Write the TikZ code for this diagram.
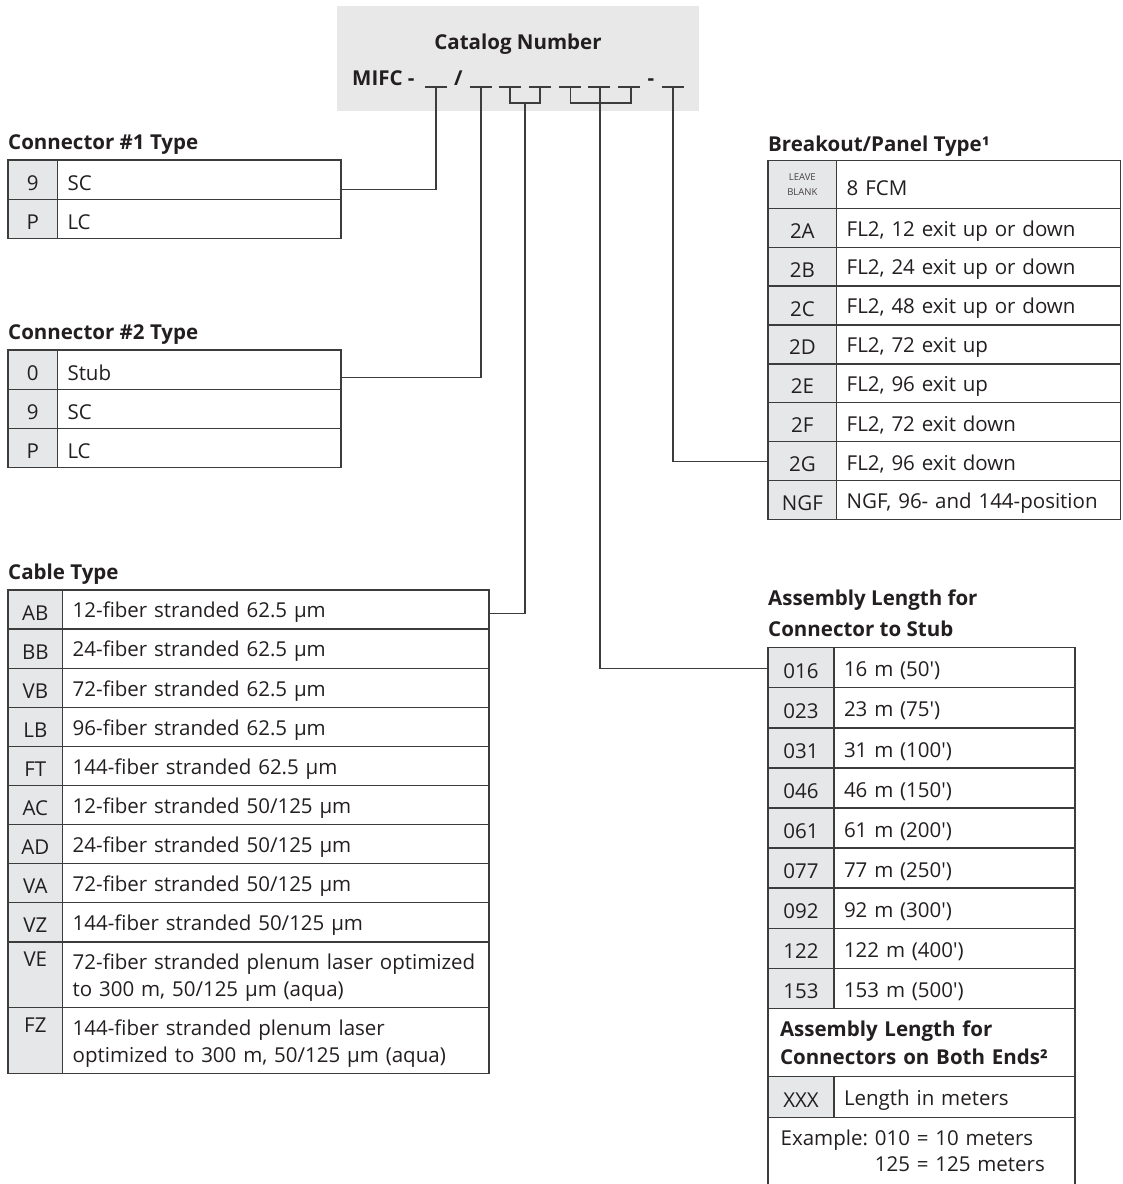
\documentclass[tikz,border=0pt]{standalone}
\usepackage{fontspec}
\setmainfont{Open Sans}
\definecolor{linegray}{HTML}{3C3C3C}
\definecolor{codegray}{HTML}{E6E7E8}
\definecolor{boxgray}{HTML}{E8E8E8}
\definecolor{ink}{HTML}{231F20}
\newcommand{\cellstrut}{\rule[-0.5pt]{0pt}{22pt}}
\newcommand{\bodyfont}{\fontsize{20.5}{26.7}\selectfont}
\newcommand{\headfont}{\fontsize{20.5}{30.5}\selectfont\bfseries}
\tikzset{
  cell/.style={draw=linegray,line width=1.3pt,anchor=north west,outer sep=0pt,
    inner ysep=0pt,text=ink,font=\bodyfont},
  codecell/.style={cell,fill=codegray,inner xsep=0pt,align=center,
    execute at begin node=\cellstrut},
  desccell/.style={cell,inner xsep=10pt,align=left,execute at begin node=\cellstrut},
  head/.style={anchor=base west,inner sep=0pt,text=ink,font=\headfont},
  wire/.style={draw=linegray,line width=1.3pt},
}
\begin{document}
\begin{tikzpicture}[x=1pt,y=-1pt]
\useasboundingbox[fill=white] (0,0) rectangle (1123,1184);

% catalog number box
\node[fill=boxgray,anchor=north west,inner sep=0pt,minimum width=362,minimum height=104.7] (catbox) at (337,6) {};
\node[head,anchor=base] (cattitle) at (518,49.5) {Catalog Number};
\node[head] (catmifc) at (352,85) {MIFC -};
\node[head,anchor=base] (catslash) at (458.3,85) {/};
\node[head,anchor=base] (catdash) at (651,85) {-};
\foreach \a/\b in {425/447,470/492,499/521,529/551,559/581,588/610,618/640,662/684}
  \draw[wire] (\a,87) -- (\b,87);
\draw[wire] (510,87) |- (540,103) -- (540,87);
\draw[wire] (570.5,87) |- (631,103) -- (631,87);
\coordinate (u1) at (436,87);
\coordinate (u2) at (481,87);
\coordinate (ucab) at (525,103);
\coordinate (ulen) at (600,87);
\coordinate (ubrk) at (673,87);

% connector #1
\node[head] (c1head) at (8,149) {Connector \#1 Type};
\foreach \cd/\ds [count=\i] in {9/SC,P/LC}{
  \node[codecell,minimum width=49.5,minimum height=39.2] (c1c\i) at (8,{160+(\i-1)*39.2}) {\cd};
  \node[desccell,text width=263.5pt,minimum height=39.2] (c1d\i) at (57.5,{160+(\i-1)*39.2}) {\ds};
}

% connector #2
\node[head] (c2head) at (8,339) {Connector \#2 Type};
\foreach \cd/\ds [count=\i] in {0/Stub,9/SC,P/LC}{
  \node[codecell,minimum width=49.5,minimum height=39.2] (c2c\i) at (8,{350+(\i-1)*39.2}) {\cd};
  \node[desccell,text width=263.5pt,minimum height=39.2] (c2d\i) at (57.5,{350+(\i-1)*39.2}) {\ds};
}

% cable type
\node[head] (cabhead) at (8,579) {Cable Type};
\foreach \cd/\ds [count=\i] in {AB/{12-fiber stranded 62.5 µm},BB/{24-fiber stranded 62.5 µm},
    VB/{72-fiber stranded 62.5 µm},LB/{96-fiber stranded 62.5 µm},FT/{144-fiber stranded 62.5 µm},
    AC/{12-fiber stranded 50/125 µm},AD/{24-fiber stranded 50/125 µm},
    VA/{72-fiber stranded 50/125 µm},VZ/{144-fiber stranded 50/125 µm}}{
  \node[codecell,minimum width=54.7,minimum height=39.1] (cabc\i) at (8,{590+(\i-1)*39.1}) {\cd};
  \node[desccell,text width=406.3pt,minimum height=39.1] (cabd\i) at (62.7,{590+(\i-1)*39.1}) {\ds};
}
\node[codecell,minimum width=54.7,minimum height=65.9] (cabc10) at (8,941.9) {VE\\\rule[-4pt]{0pt}{4pt}};
\node[desccell,text width=406.3pt,minimum height=65.9] (cabd10) at (62.7,941.9)
  {72-fiber stranded plenum laser optimized\\to 300 m, 50/125 µm (aqua)};
\node[codecell,minimum width=54.7,minimum height=65.5] (cabc11) at (8,1007.8) {FZ\\\rule[-4pt]{0pt}{4pt}};
\node[desccell,text width=406.3pt,minimum height=65.5] (cabd11) at (62.7,1007.8)
  {144-fiber stranded plenum laser\\optimized to 300 m, 50/125 µm (aqua)};

% breakout / panel type
\node[head] (brkhead) at (768,151.5) {Breakout/Panel Type¹};
\node[cell,fill=codegray,inner xsep=0pt,align=center,minimum width=68.7,minimum height=47.6,
  text=ink!85,font=\fontsize{9.5}{15}\selectfont] (brkc0) at (768,160.7) {LEAVE\\BLANK};
\node[desccell,text width=264pt,minimum height=47.6] (brkd0) at (836.7,160.7) {8 FCM};
\foreach \cd/\ds [count=\i] in {2A/{FL2, 12 exit up or down},2B/{FL2, 24 exit up or down},
    2C/{FL2, 48 exit up or down},2D/{FL2, 72 exit up},2E/{FL2, 96 exit up},
    2F/{FL2, 72 exit down},2G/{FL2, 96 exit down},NGF/{NGF, 96- and 144-position}}{
  \node[codecell,minimum width=68.7,minimum height=38.9] (brkc\i) at (768,{208.3+(\i-1)*38.9}) {\cd};
  \node[desccell,text width=264pt,minimum height=38.9] (brkd\i) at (836.7,{208.3+(\i-1)*38.9}) {\ds};
}

% assembly length
\node[head,anchor=north west,align=left] (lenhead) at (768,590) {Assembly Length for\\Connector to Stub};
\foreach \cd/\ds [count=\i] in {016/{16 m (50\textquotesingle)},023/{23 m (75\textquotesingle)},
    031/{31 m (100\textquotesingle)},046/{46 m (150\textquotesingle)},061/{61 m (200\textquotesingle)},
    077/{77 m (250\textquotesingle)},092/{92 m (300\textquotesingle)},122/{122 m (400\textquotesingle)},
    153/{153 m (500\textquotesingle)}}{
  \node[codecell,minimum width=66,minimum height=40.07] (lenc\i) at (768,{647.7+(\i-1)*40.07}) {\cd};
  \node[desccell,text width=221pt,minimum height=40.07] (lend\i) at (834,{647.7+(\i-1)*40.07}) {\ds};
}
\node[cell,inner xsep=12pt,align=left,text width=283pt,minimum height=68.4,
  font=\fontsize{20.5}{28.3}\selectfont\bfseries] (bothhead) at (768,1008.3)
  {Assembly Length for\\Connectors on Both Ends²};
\node[codecell,minimum width=66,minimum height=40.6] (xxxc) at (768,1076.7) {XXX};
\node[desccell,text width=221pt,minimum height=40.6] (xxxd) at (834,1076.7) {Length in meters};
\node[cell,inner xsep=12.7pt,align=left,text width=281.6pt,minimum height=72] (example) at (768,1117.3)
  {Example:\ 010 = 10 meters\\\phantom{Example:\ }125 = 125 meters};

% connectors from the catalog number
\draw[wire] (u1) |- ([yshift=-10pt]c1d1.east);
\draw[wire] (u2) |- ([yshift=-8pt]c2d1.east);
\draw[wire] (ucab) |- ([yshift=-3.7pt]cabd1.east);
\draw[wire] (ulen) |- ([yshift=-1pt]lenc1.west);
\draw[wire] (ubrk) |- (brkc7.west);

\end{tikzpicture}
\end{document}
